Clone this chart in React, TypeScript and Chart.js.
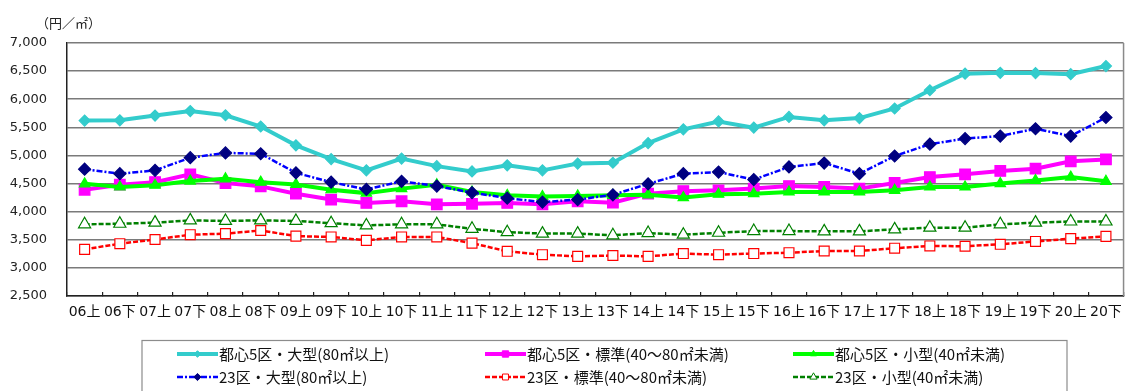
import React, { useEffect, useRef } from "react";
import { Chart, registerables } from "chart.js";

Chart.register(...registerables);

const categories = [
  "06上", "06下", "07上", "07下", "08上", "08下", "09上", "09下", "10上", "10下",
  "11上", "11下", "12上", "12下", "13上", "13下", "14上", "14下", "15上", "15下",
  "16上", "16下", "17上", "17下", "18上", "18下", "19上", "19下", "20上", "20下",
];

const seriesNames = [
  "都心5区・大型(80㎡以上)",
  "都心5区・標準(40～80㎡未満)",
  "都心5区・小型(40㎡未満)",
  "23区・大型(80㎡以上)",
  "23区・標準(40～80㎡未満)",
  "23区・小型(40㎡未満)",
];

const toshinLarge = [5620, 5625, 5710, 5790, 5715, 5515, 5180, 4935, 4735, 4945, 4810, 4715, 4825, 4735, 4855, 4870, 5220, 5465, 5605, 5495, 5685, 5625, 5665, 5835, 6160, 6455, 6470, 6465, 6445, 6590];
const toshinStandard = [4390, 4480, 4525, 4665, 4510, 4450, 4320, 4215, 4155, 4185, 4130, 4140, 4155, 4130, 4185, 4160, 4320, 4365, 4380, 4410, 4455, 4440, 4410, 4510, 4615, 4665, 4725, 4765, 4895, 4930];
const toshinSmall = [4495, 4440, 4470, 4545, 4585, 4525, 4485, 4390, 4330, 4410, 4480, 4350, 4290, 4270, 4280, 4290, 4300, 4250, 4310, 4320, 4350, 4350, 4350, 4380, 4440, 4440, 4500, 4555, 4615, 4540];
const ku23Large = [4755, 4675, 4735, 4960, 5045, 5030, 4690, 4525, 4395, 4540, 4455, 4340, 4240, 4170, 4215, 4300, 4495, 4675, 4705, 4570, 4795, 4865, 4675, 4990, 5200, 5300, 5345, 5475, 5345, 5675];
const ku23Standard = [3330, 3430, 3505, 3590, 3610, 3665, 3565, 3550, 3490, 3550, 3550, 3440, 3295, 3235, 3205, 3220, 3205, 3255, 3235, 3255, 3270, 3300, 3300, 3350, 3390, 3385, 3420, 3470, 3520, 3560];
const ku23Small = [3775, 3785, 3805, 3845, 3835, 3845, 3835, 3795, 3755, 3775, 3775, 3695, 3635, 3610, 3610, 3580, 3620, 3590, 3625, 3655, 3655, 3650, 3650, 3685, 3715, 3715, 3775, 3805, 3825, 3825];

const yMin = 2500;
const yMax = 7000;
const yStep = 500;
const yTitle = "（円／㎡）";

const CJK = '"Noto Sans CJK JP"';

function drawMarker(ctx: CanvasRenderingContext2D, style: string, x: number, y: number, r: number, fill: string, stroke: string, lw: number) {
  ctx.save();
  ctx.setLineDash([]);
  ctx.beginPath();
  if (style === "rectRot") {
    ctx.moveTo(x, y - r);
    ctx.lineTo(x + r, y);
    ctx.lineTo(x, y + r);
    ctx.lineTo(x - r, y);
    ctx.closePath();
  } else if (style === "rect") {
    const s = Math.SQRT1_2 * r;
    ctx.rect(x - s, y - s, 2 * s, 2 * s);
  } else if (style === "triangle") {
    const h = (r * 3) / 2;
    const e = (r * 3) / Math.sqrt(3);
    ctx.moveTo(x - e / 2, y + h / 3);
    ctx.lineTo(x + e / 2, y + h / 3);
    ctx.lineTo(x, y - (2 * h) / 3);
    ctx.closePath();
  }
  ctx.fillStyle = fill;
  ctx.fill();
  ctx.strokeStyle = stroke;
  ctx.lineWidth = lw;
  ctx.stroke();
  ctx.restore();
}

const decorPlugin = {
  id: "decor",
  beforeDatasetsDraw(chart: any) {
    const { ctx, chartArea } = chart;
    ctx.save();
    ctx.strokeStyle = "#8a8a8a";
    ctx.lineWidth = 1.5;
    ctx.beginPath();
    ctx.moveTo(chartArea.right, chartArea.top);
    ctx.lineTo(chartArea.right, chartArea.bottom);
    ctx.stroke();
    ctx.restore();
  },
  afterDraw(chart: any) {
    const { ctx } = chart;
    ctx.save();
    // y-axis unit title
    ctx.fillStyle = "#222";
    ctx.font = `13px ${CJK}`;
    ctx.textBaseline = "middle";
    ctx.textAlign = "left";
    ctx.fillText(yTitle, 36, 23);

    // legend box
    ctx.strokeStyle = "#8c8c8c";
    ctx.lineWidth = 1.2;
    ctx.strokeRect(142, 340.5, 925, 60);

    const colX = [177, 485, 793];
    const rowY = [354, 377];
    const ds = chart.data.datasets;
    ds.forEach((d: any, i: number) => {
      const col = i % 3;
      const row = Math.floor(i / 3);
      const x0 = colX[col];
      const y0 = rowY[row];
      const w = 41;
      ctx.save();
      ctx.strokeStyle = d.borderColor;
      ctx.lineWidth = d.borderWidth;
      ctx.setLineDash(d.borderDash || []);
      ctx.beginPath();
      ctx.moveTo(x0, y0);
      ctx.lineTo(x0 + w, y0);
      ctx.stroke();
      ctx.restore();
      drawMarker(ctx, d.pointStyle, x0 + w / 2, y0, d.pointRadius * 0.6, d.pointBackgroundColor, d.pointBorderColor, 1);
      ctx.fillStyle = "#111";
      ctx.font = `15px ${CJK}`;
      ctx.textBaseline = "middle";
      ctx.textAlign = "left";
      ctx.fillText(d.label, x0 + w + 1, y0);
    });
    ctx.restore();
  },
};

export default function App() {
  const canvasRef = useRef<HTMLCanvasElement | null>(null);

  useEffect(() => {
    document.body.style.margin = "0";
    const canvas = canvasRef.current;
    if (!canvas) return;

    const datasets = [
      {
        label: seriesNames[0], data: toshinLarge, borderColor: "#33CCCC", borderWidth: 4,
        pointStyle: "rectRot", pointRadius: 5.5, pointBackgroundColor: "#33CCCC", pointBorderColor: "#33CCCC", borderDash: [], order: 5,
      },
      {
        label: seriesNames[1], data: toshinStandard, borderColor: "#FF00FF", borderWidth: 4,
        pointStyle: "rect", pointRadius: 7.5, pointBackgroundColor: "#FF00FF", pointBorderColor: "#FF00FF", borderDash: [], order: 4,
      },
      {
        label: seriesNames[2], data: toshinSmall, borderColor: "#00FF00", borderWidth: 4,
        pointStyle: "triangle", pointRadius: 6, pointBackgroundColor: "#00FF00", pointBorderColor: "#00FF00", borderDash: [], order: 3,
      },
      {
        label: seriesNames[3], data: ku23Large, borderColor: "#0000FF", borderWidth: 2.5,
        pointStyle: "rectRot", pointRadius: 6, pointBackgroundColor: "#000080", pointBorderColor: "#000080", borderDash: [6, 2, 2, 2], order: 2,
      },
      {
        label: seriesNames[4], data: ku23Standard, borderColor: "#FF0000", borderWidth: 2.5,
        pointStyle: "rect", pointRadius: 7, pointBackgroundColor: "#FFFFFF", pointBorderColor: "#FF0000", borderDash: [5, 2], order: 1,
      },
      {
        label: seriesNames[5], data: ku23Small, borderColor: "#008000", borderWidth: 2.5,
        pointStyle: "triangle", pointRadius: 7, pointBackgroundColor: "#FFFFFF", pointBorderColor: "#008000", borderDash: [5, 2], order: 0,
      },
    ].map((d) => ({ ...d, pointBorderWidth: 1.2, tension: 0, fill: false, pointHoverRadius: d.pointRadius }));

    const chart = new Chart(canvas, {
      type: "line",
      data: { labels: categories, datasets: datasets as any },
      options: {
        responsive: false,
        animation: false,
        layout: { padding: { left: 0, top: 43, right: 2, bottom: 0 } },
        plugins: {
          legend: { display: false },
          tooltip: { enabled: false },
          title: { display: false },
        },
        scales: {
          x: {
            type: "category",
            offset: true,
            grid: {
              offset: true,
              drawOnChartArea: false,
              drawTicks: true,
              tickLength: -4,
              color: "#222",
              lineWidth: 1.2,
            },
            border: { color: "#222", width: 1.5 },
            ticks: {
              autoSkip: false,
              maxRotation: 0,
              minRotation: 0,
              padding: 12,
              color: "#111",
              font: { family: `"DejaVu Sans", ${CJK}`, size: 14 },
            },
            afterFit: (scale: any) => {
              scale.height = 95;
            },
          },
          y: {
            min: yMin,
            max: yMax,
            ticks: {
              stepSize: yStep,
              padding: 20,
              color: "#222",
              font: { family: '"DejaVu Sans"', size: 13 },
              callback: (v: any) => Number(v).toLocaleString("en-US"),
            },
            grid: { color: "#7a7a7a", lineWidth: 1.5, drawTicks: false },
            border: { color: "#222", width: 1.5 },
            afterFit: (scale: any) => {
              scale.width = 67;
            },
          },
        },
      },
      plugins: [decorPlugin],
    });

    return () => chart.destroy();
  }, []);

  return (
    <div style={{ width: 1134, height: 391, background: "#fff" }}>
      <canvas ref={canvasRef} width={1134} height={391} style={{ display: "block" }} />
    </div>
  );
}
